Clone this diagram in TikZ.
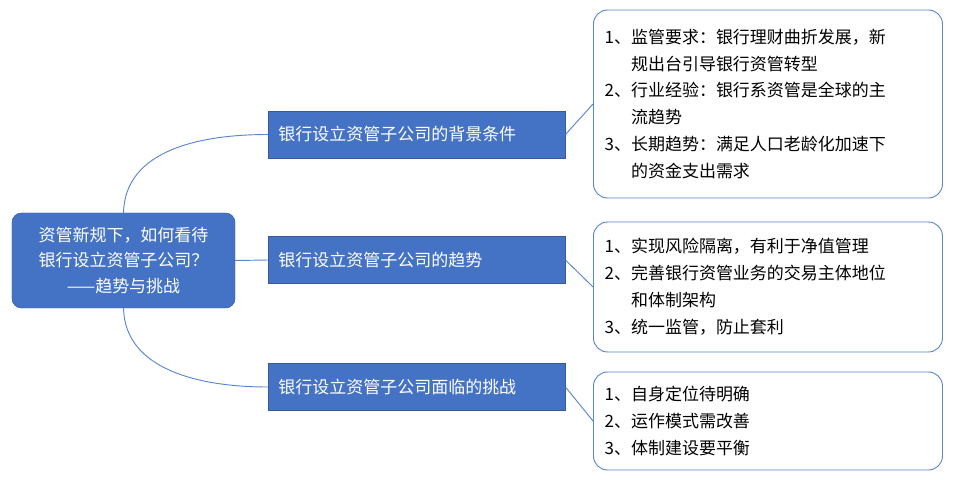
\documentclass[tikz,border=0pt]{standalone}
\usepackage{fontspec}
\setmainfont{Noto Sans CJK SC}
\usetikzlibrary{positioning}
\definecolor{topicblue}{HTML}{4472C4}
\definecolor{linkblue}{HTML}{5B86CF}

\begin{document}
\begin{tikzpicture}[x=0.03cm, y=-0.03cm,
  rootbox/.style={draw=topicblue!80!black, fill=topicblue, rounded corners=8pt, text=white, align=center, font=\fontsize{14.5}{22}\selectfont, minimum width=6.69cm, minimum height=2.85cm},
  midbox/.style={draw=topicblue!80!black, fill=topicblue, text=white, font=\fontsize{14.5}{18}\selectfont, minimum width=8.91cm, minimum height=1.41cm, anchor=west, inner xsep=8pt, text width=8.3cm},
  notebox/.style={draw=linkblue, line width=0.8pt, rounded corners=12pt, fill=white, align=left, font=\fontsize{14.5}{23}\selectfont, minimum width=10.47cm, anchor=west, text width=9.8cm, inner xsep=8pt},
  link/.style={draw=linkblue, line width=0.8pt}]
\useasboundingbox (0,0) rectangle (956,480);
\node[rootbox] (root) at (123.5,260.5) {资管新规下，如何看待\\银行设立资管子公司？\\——趋势与挑战};
\node[midbox] (bg) at (268,134.5) {银行设立资管子公司的背景条件};
\node[midbox] (trend) at (268,260) {银行设立资管子公司的趋势};
\node[midbox] (chal) at (268,387) {银行设立资管子公司面临的挑战};
\node[notebox, minimum height=5.64cm] (bgnote) at (593,104) {1、监管要求：银行理财曲折发展，新\\\phantom{1、}规出台引导银行资管转型\\2、行业经验：银行系资管是全球的主\\\phantom{1、}流趋势\\3、长期趋势：满足人口老龄化加速下\\\phantom{1、}的资金支出需求};
\node[notebox, minimum height=3.9cm] (trendnote) at (593,287) {1、实现风险隔离，有利于净值管理\\2、完善银行资管业务的交易主体地位\\\phantom{1、}和体制架构\\3、统一监管，防止套利};
\node[notebox, minimum height=2.94cm] (chalnote) at (593,421) {1、自身定位待明确\\2、运作模式需改善\\3、体制建设要平衡};
\draw[link] (root.north) .. controls (125,150) and (200,134.5) .. (bg.west);
\draw[link] (root.east) -- (trend.west);
\draw[link] (root.south) .. controls (125,370) and (200,387) .. (chal.west);
\draw[link] (bg.east) -- (bgnote.west);
\draw[link] (trend.east) -- (trendnote.west);
\draw[link] (chal.east) -- (chalnote.west);
\end{tikzpicture}
\end{document}
